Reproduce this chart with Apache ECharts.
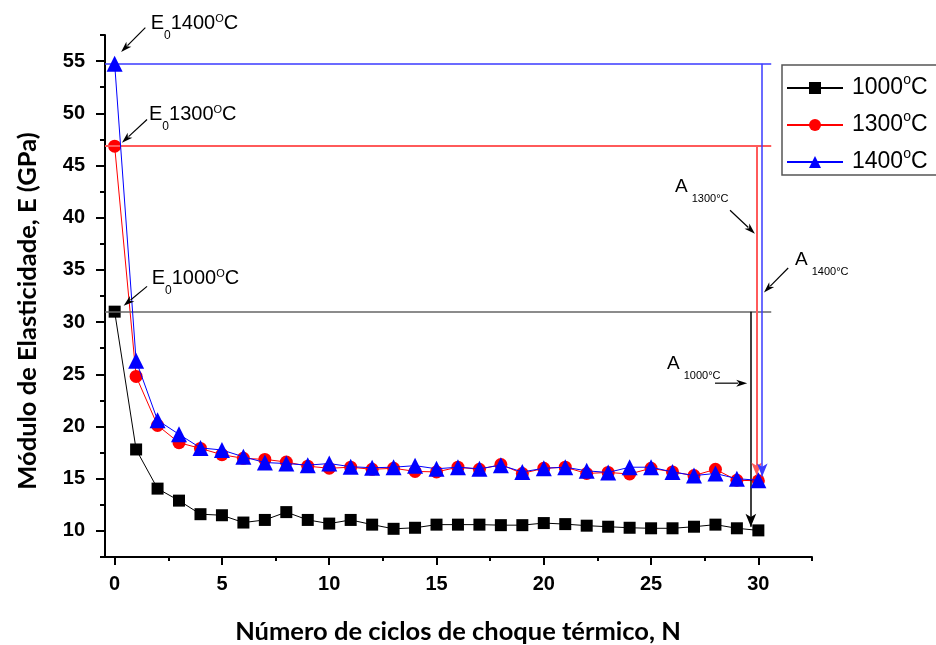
<!DOCTYPE html>
<html>
<head>
<meta charset="utf-8">
<script src="https://cdn.jsdelivr.net/npm/echarts@6.0.0/dist/echarts.min.js"></script>
<style>
html, body { margin: 0; padding: 0; background: #fff; }
#grafico { width: 936px; height: 645px; }
</style>
</head>
<body>
<div id="grafico"></div>
<script>
// ciclos de choque térmico
var ciclos = [0,1,2,3,4,5,6,7,8,9,10,11,12,13,14,15,16,17,18,19,20,21,22,23,24,25,26,27,28,29,30];
// módulo de elasticidade (GPa)
var e1000 = [31.0,17.8,14.05,12.9,11.6,11.5,10.8,11.05,11.8,11.05,10.7,11.05,10.6,10.2,10.3,10.6,10.6,10.6,10.55,10.55,10.75,10.65,10.5,10.4,10.3,10.25,10.25,10.4,10.6,10.25,10.05];
var e1300 = [46.85,24.8,20.1,18.45,17.9,17.3,16.95,16.85,16.6,16.2,16.0,16.1,15.9,16.0,15.7,15.65,16.1,15.9,16.35,15.5,16.0,16.1,15.5,15.6,15.45,16.0,15.65,15.3,15.9,14.85,14.8];
var e1400 = [54.75,26.3,20.6,19.25,17.95,17.75,17.1,16.55,16.45,16.3,16.45,16.15,16.05,16.1,16.25,15.95,16.1,15.95,16.3,15.65,16.0,16.1,15.75,15.6,16.1,16.1,15.65,15.3,15.5,15.0,14.85];
var nomes = ['1000°C', '1300°C', '1400°C'];

// ticks
var xLabels = [0,5,10,15,20,25,30];
var xMinor = [2.5,7.5,12.5,17.5,22.5,27.5,32.5];
var yLabels = [10,15,20,25,30,35,40,45,50,55];
var yMinor = [7.5,12.5,17.5,22.5,27.5,32.5,37.5,42.5,47.5,52.5,57.5];

// linhas de referência (E0 até A)
var fimHoriz = 30.6;
var xVert = [29.65, 29.92, 30.18];
var fimVert = [10.4, 15.3, 15.2];

// setas das anotações [x0, y0, x1, y1]
var setas = [
  [1.43, 58.21, 0.30, 55.87],
  [1.51, 49.41, 0.34, 47.18],
  [1.51, 33.42, 0.42, 31.56],
  [28.68, 40.71, 29.84, 38.47],
  [31.39, 35.18, 30.26, 32.84],
  [27.98, 24.15, 29.48, 24.15]
];

var cores = ['#000000', '#ff0000', '#0000ff'];
var coresRef = ['#666666', '#ff5a5a', '#3a3aff'];
var simbolos = ['rect', 'circle', 'triangle'];
var tamanhos = [12, 13, 16];
var valores = [e1000, e1300, e1400];

var fonteNum = 'Liberation Sans, Arial, sans-serif';

function pares(v) {
  return ciclos.map(function (c, i) { return [c, v[i]]; });
}

var series = valores.map(function (v, i) {
  return {
    name: nomes[i],
    type: 'line',
    xAxisIndex: 0,
    yAxisIndex: 0,
    data: pares(v),
    symbol: simbolos[i],
    symbolSize: tamanhos[i],
    itemStyle: { color: cores[i] },
    lineStyle: { color: cores[i], width: 1 },
    z: 3 + i,
    markLine: {
      silent: true,
      animation: false,
      symbol: ['none', 'none'],
      label: { show: false },
      lineStyle: { color: coresRef[i], width: i === 1 ? 2 : 1.5, type: 'solid' },
      data: [
        [{ coord: [-0.45, v[0]] }, { coord: [fimHoriz, v[0]] }],
        [{ coord: [xVert[i], v[0]], symbol: 'none' },
         { coord: [xVert[i], fimVert[i]], symbol: 'arrow', symbolSize: [8, 13],
           lineStyle: { color: i === 0 ? '#000' : coresRef[i] } }]
      ]
    }
  };
});

var richE = {
  b: { fontSize: 20, lineHeight: 24, verticalAlign: 'top', fontFamily: fonteNum, color: '#000' },
  sub: { fontSize: 12, lineHeight: 12, verticalAlign: 'top', padding: [16, 0, 0, 0], fontFamily: fonteNum, color: '#000' },
  sup: { fontSize: 11, lineHeight: 12, verticalAlign: 'top', padding: [0, 0, 0, 0], fontFamily: fonteNum, color: '#000' }
};
var richA = {
  a: { fontSize: 19, lineHeight: 22, verticalAlign: 'top', fontFamily: fonteNum, color: '#000' },
  s: { fontSize: 11, lineHeight: 11, verticalAlign: 'top', padding: [16, 0, 0, 4], fontFamily: fonteNum, color: '#000' }
};

function rotuloE(x, y, t) {
  return { type: 'text', left: x, top: y, z: 20,
    style: { text: '{b|E}{sub|0}{b|' + t + '}{sup|O}{b|C}', rich: richE } };
}
function rotuloA(x, y, t) {
  return { type: 'text', left: x, top: y, z: 20,
    style: { text: '{a|A}{s|' + t + '°C}', rich: richA } };
}

var textos = [
  rotuloE(150.7, 13.5, '1400'),
  rotuloE(149, 104.8, '1300'),
  rotuloE(151.7, 268.5, '1000'),
  rotuloA(675, 177, '1300'),
  rotuloA(795, 250.5, '1400'),
  rotuloA(667, 354.5, '1000'),
  { type: 'text', x: 458, y: 632, z: 20,
    style: { text: 'Número de ciclos de choque térmico, N', fontFamily: 'Lato', fontWeight: 'bold', fontSize: 25.5,
      fill: '#000', align: 'center', verticalAlign: 'middle' } },
  { type: 'text', x: 28, y: 311, rotation: Math.PI / 2, z: 20,
    style: { text: 'Módulo de Elasticidade, E (GPa)', fontFamily: 'Lato', fontWeight: 'bold', fontSize: 25.5,
      fill: '#000', align: 'center', verticalAlign: 'middle' } },
  // moldura da legenda (passa da borda direita, como no original)
  { type: 'rect', z: 1, silent: true,
    shape: { x: 782, y: 65, width: 200, height: 110 },
    style: { fill: 'none', stroke: '#555', lineWidth: 1.5 } }
];

var eixoX = {
  type: 'value', min: -0.45, max: 32.5, position: 'bottom',
  axisLine: { show: true, onZero: false, lineStyle: { color: '#000', width: 2 } },
  splitLine: { show: false }
};
var eixoY = {
  type: 'value', min: 7.5, max: 57.5, position: 'left',
  axisLine: { show: true, onZero: false, lineStyle: { color: '#000', width: 2 } },
  splitLine: { show: false }
};

option = {
  animation: false,
  backgroundColor: '#fff',
  grid: { left: 105, right: 124, top: 35, bottom: 88, containLabel: false },
  legend: {
    orient: 'vertical',
    left: 782,
    top: 65,
    padding: [8, 4, 8, 4],
    itemGap: 7,
    itemWidth: 56,
    itemHeight: 15,
    borderWidth: 0,
    data: nomes,
    formatter: function (n) { return '{n|' + n.replace('°C', '') + '}{s|o}{n|C}'; },
    textStyle: {
      padding: [0, 0, 0, 4],
      rich: {
        n: { fontSize: 23, lineHeight: 26, fontFamily: fonteNum, color: '#000' },
        s: { fontSize: 14, lineHeight: 10, padding: [0, 0, 16, 0], fontFamily: fonteNum, color: '#000' }
      }
    }
  },
  xAxis: [
    Object.assign({}, eixoX, {
      axisTick: { show: true, customValues: xLabels, length: 8, lineStyle: { color: '#000', width: 2 } },
      axisLabel: { customValues: xLabels, margin: 17, color: '#000', fontSize: 20, fontWeight: 'bold', fontFamily: fonteNum }
    }),
    Object.assign({}, eixoX, {
      axisLine: { show: false, onZero: false },
      axisTick: { show: true, customValues: xMinor, length: 4, lineStyle: { color: '#000', width: 2 } },
      axisLabel: { show: false }
    })
  ],
  yAxis: [
    Object.assign({}, eixoY, {
      axisTick: { show: true, customValues: yLabels, length: 9, lineStyle: { color: '#000', width: 2 } },
      axisLabel: { customValues: yLabels, margin: 20, color: '#000', fontSize: 20, fontWeight: 'bold', fontFamily: fonteNum }
    }),
    Object.assign({}, eixoY, {
      axisLine: { show: false, onZero: false },
      axisTick: { show: true, customValues: yMinor, length: 5, lineStyle: { color: '#000', width: 2 } },
      axisLabel: { show: false }
    })
  ],
  graphic: textos,
  series: series
};

var myChart = echarts.init(document.getElementById('grafico'));
myChart.setOption(option);

// setas das anotações, posicionadas pela escala do gráfico
var graf = textos.slice();
setas.forEach(function (s) {
  var p0 = myChart.convertToPixel({ seriesIndex: 0 }, [s[0], s[1]]);
  var p1 = myChart.convertToPixel({ seriesIndex: 0 }, [s[2], s[3]]);
  var dx = p1[0] - p0[0], dy = p1[1] - p0[1];
  var len = Math.sqrt(dx * dx + dy * dy);
  var ux = dx / len, uy = dy / len;
  var L = 11, W = 3.5;
  var bx = p1[0] - ux * L, by = p1[1] - uy * L;
  graf.push({ type: 'line', z: 20, silent: true,
    shape: { x1: p0[0], y1: p0[1], x2: bx + ux * 2, y2: by + uy * 2 },
    style: { stroke: '#000', lineWidth: 1.2 } });
  graf.push({ type: 'polygon', z: 20, silent: true,
    shape: { points: [[p1[0], p1[1]], [bx - uy * W, by + ux * W], [bx + ux * 3, by + uy * 3], [bx + uy * W, by - ux * W]] },
    style: { fill: '#000' } });
});
myChart.setOption({ graphic: graf }, { replaceMerge: ['graphic'] });
</script>
</body>
</html>
